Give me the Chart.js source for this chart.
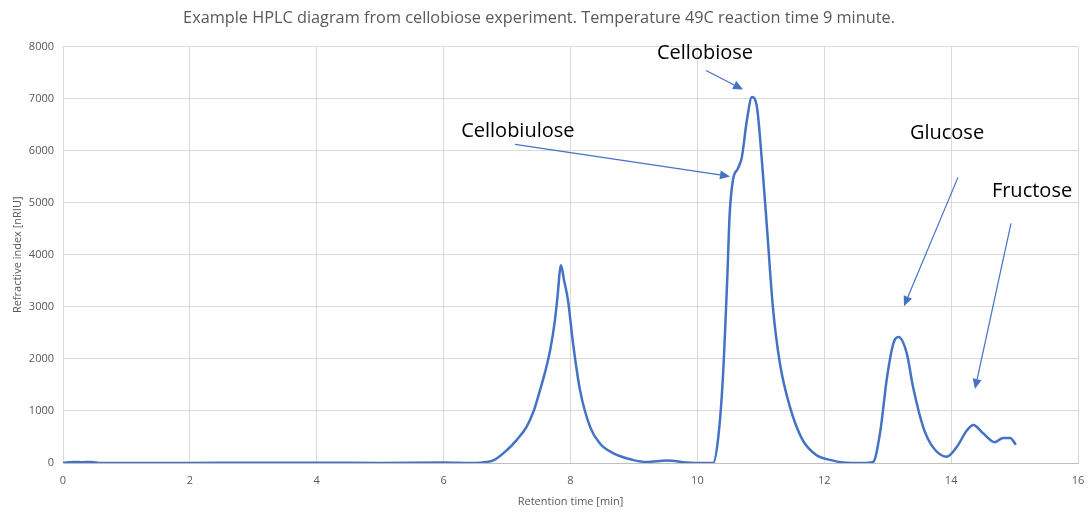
<!DOCTYPE html>
<html>
<head>
<meta charset="utf-8">
<script src="https://cdn.jsdelivr.net/npm/chart.js@4/dist/chart.umd.min.js"></script>
<style>
  html, body { margin: 0; padding: 0; background: #ffffff; }
  #wrap { width: 1091px; height: 512px; position: relative; }
</style>
</head>
<body>
<div id="wrap"><canvas id="c" width="1091" height="512"></canvas></div>
<script>
// Retention time [min]
const times = [0, 0.15, 0.3, 0.45, 0.6, 1.0, 2.0, 3.0, 4.0, 5.0, 6.0, 6.4, 6.62, 6.8, 7.0, 7.15, 7.31, 7.42, 7.52, 7.6, 7.68, 7.75, 7.79, 7.85, 7.9, 7.96, 8.04, 8.15, 8.31, 8.46, 8.67, 8.98, 9.2, 9.52, 9.83, 10.1, 10.25, 10.33, 10.4, 10.47, 10.51, 10.56, 10.64, 10.7, 10.78, 10.86, 10.94, 11.02, 11.1, 11.19, 11.3, 11.46, 11.66, 11.88, 12.09, 12.3, 12.6, 12.77, 12.88, 12.99, 13.09, 13.17, 13.3, 13.4, 13.56, 13.71, 13.93, 14.09, 14.25, 14.35, 14.5, 14.69, 14.82, 14.93, 15.02];
// Refractive index [nRIU]
const signal = [0, 20, 15, 20, 0, 0, 0, 5, 5, 0, 10, 0, 10, 60, 250, 440, 700, 1000, 1400, 1750, 2170, 2700, 3130, 3800, 3500, 3130, 2300, 1400, 690, 380, 190, 60, 20, 50, 10, 0, 0, 500, 1590, 3510, 4800, 5430, 5660, 5870, 6580, 7030, 6830, 5760, 4470, 3000, 1920, 1075, 440, 150, 60, 10, 0, 20, 580, 1650, 2300, 2420, 2110, 1460, 690, 310, 120, 310, 630, 730, 575, 400, 480, 480, 350];

// Peak annotations (label position and arrow, in data units: time, signal)
const peakNames = ["Cellobiose", "Cellobiulose", "Glucose", "Fructose"];
const labelTime = [10.12, 7.17, 13.935, 15.275];
const labelSignal = [7866, 6369, 6331, 5218];
const arrowFromTime = [10.136, 7.125, 14.108, 14.944];
const arrowFromSignal = [7540, 6120, 5487, 4604];
const arrowToTime = [10.72, 10.514, 13.257, 14.376];
const arrowToSignal = [7175, 5506, 3012, 1420];

const xTicks = [0, 2, 4, 6, 8, 10, 12, 14, 16];
const yTicks = [0, 1000, 2000, 3000, 4000, 5000, 6000, 7000, 8000];

const points = times.map((t, i) => ({ x: t, y: signal[i] }));

const annotate = {
  id: 'annotate',
  afterDatasetsDraw(chart) {
    const ctx = chart.ctx;
    const xs = chart.scales.x, ys = chart.scales.y;
    ctx.save();
    ctx.font = '20px "Open Sans"';
    ctx.textAlign = 'center';
    ctx.textBaseline = 'middle';
    peakNames.forEach((name, i) => {
      ctx.fillStyle = '#000000';
      ctx.fillText(name, xs.getPixelForValue(labelTime[i]), ys.getPixelForValue(labelSignal[i]));
      const x1 = xs.getPixelForValue(arrowFromTime[i]), y1 = ys.getPixelForValue(arrowFromSignal[i]);
      const x2 = xs.getPixelForValue(arrowToTime[i]), y2 = ys.getPixelForValue(arrowToSignal[i]);
      const ang = Math.atan2(y2 - y1, x2 - x1);
      const hl = 10, hw = 4.5;
      ctx.strokeStyle = '#4472C4';
      ctx.fillStyle = '#4472C4';
      ctx.lineWidth = 1.2;
      ctx.beginPath();
      ctx.moveTo(x1, y1);
      ctx.lineTo(x2 - hl * Math.cos(ang), y2 - hl * Math.sin(ang));
      ctx.stroke();
      ctx.beginPath();
      ctx.moveTo(x2, y2);
      ctx.lineTo(x2 - hl * Math.cos(ang) + hw * Math.sin(ang), y2 - hl * Math.sin(ang) - hw * Math.cos(ang));
      ctx.lineTo(x2 - hl * Math.cos(ang) - hw * Math.sin(ang), y2 - hl * Math.sin(ang) + hw * Math.cos(ang));
      ctx.closePath();
      ctx.fill();
    });
    ctx.restore();
  }
};

new Chart(document.getElementById('c'), {
  type: 'line',
  data: {
    datasets: [{
      data: points,
      borderColor: '#4472C4',
      borderWidth: 2.5,
      pointRadius: 0,
      fill: false,
      cubicInterpolationMode: 'monotone'
    }]
  },
  options: {
    responsive: false,
    animation: false,
    layout: { padding: { left: 0, right: 13, top: 0, bottom: 0 } },
    plugins: {
      legend: { display: false },
      tooltip: { enabled: false },
      title: {
        display: true,
        text: 'Example HPLC diagram from cellobiose experiment. Temperature 49C reaction time 9 minute.',
        color: '#595959',
        font: { family: '"Open Sans"', size: 16.3, weight: 'normal' },
        padding: { top: 9, bottom: 18 }
      }
    },
    scales: {
      x: {
        type: 'linear',
        min: 0, max: 16,
        afterBuildTicks(s) { s.ticks = xTicks.map(v => ({ value: v })); },
        afterFit(s) { s.height = 49; s.paddingRight = 0; s.paddingLeft = 0; },
        grid: { color: '#d9d9d9', drawTicks: false },
        border: { color: '#bfbfbf' },
        ticks: { color: '#595959', font: { family: '"Open Sans"', size: 11 }, padding: 11, maxRotation: 0, callback: v => String(v) },
        title: { display: true, text: 'Retention time [min]', color: '#595959', font: { family: '"Open Sans"', size: 11 }, padding: { top: 2, bottom: 4 } }
      },
      y: {
        min: 0, max: 8000,
        afterBuildTicks(s) { s.ticks = yTicks.map(v => ({ value: v })); },
        afterFit(s) { s.width = 63; },
        grid: { color: '#d9d9d9', drawTicks: false },
        border: { color: '#d9d9d9' },
        ticks: { color: '#595959', font: { family: '"Open Sans"', size: 11 }, padding: 9, callback: v => String(v) },
        title: { display: true, text: 'Refractive index [nRIU]', color: '#595959', font: { family: '"Open Sans"', size: 11 }, padding: { top: 11, bottom: 4 } }
      }
    }
  },
  plugins: [annotate]
});
</script>
</body>
</html>
